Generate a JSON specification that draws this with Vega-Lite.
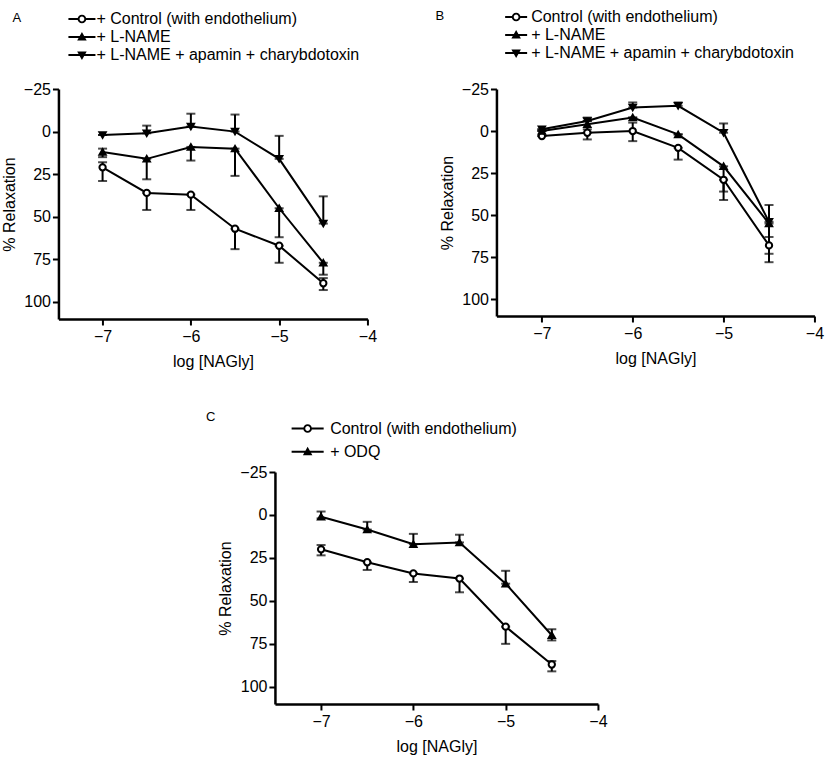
{
  "$schema": "https://vega.github.io/schema/vega-lite/v6.json",
  "padding": {"left": 1, "top": 9, "right": 2, "bottom": 2},
  "background": "white",
  "config": {
    "font": "Liberation Sans",
    "view": {"stroke": null},
    "axis": {
      "grid": false,
      "domainColor": "black",
      "domainWidth": 2.5,
      "tickColor": "black",
      "tickWidth": 2,
      "tickSize": 6,
      "labelFont": "Liberation Sans",
      "labelFontSize": 16,
      "labelColor": "black",
      "labelFlush": false,
      "titleFont": "Liberation Sans",
      "titleFontSize": 16,
      "titleFontWeight": "normal",
      "titleColor": "black"
    },
    "legend": {
      "labelFont": "Liberation Sans",
      "labelFontSize": 16,
      "labelColor": "black",
      "labelLimit": 0,
      "symbolStrokeWidth": 0,
      "symbolSize": 196,
      "padding": 0
    },
    "title": {"font": "Liberation Sans", "fontSize": 13, "fontWeight": "normal", "color": "black", "anchor": "start", "frame": "group"}
  },
  "datasets": {
    "a": [
      {"x": -7, "s": "+ Control (with endothelium)", "v": 21, "lo": 18, "hi": 29},
      {"x": -6.5, "s": "+ Control (with endothelium)", "v": 36, "lo": 36, "hi": 46},
      {"x": -6, "s": "+ Control (with endothelium)", "v": 37, "lo": 37, "hi": 46},
      {"x": -5.5, "s": "+ Control (with endothelium)", "v": 57, "lo": 57, "hi": 69},
      {"x": -5, "s": "+ Control (with endothelium)", "v": 67, "lo": 67, "hi": 77},
      {"x": -4.5, "s": "+ Control (with endothelium)", "v": 89, "lo": 86, "hi": 93},
      {"x": -7, "s": "+ L-NAME", "v": 12, "lo": 10, "hi": 15},
      {"x": -6.5, "s": "+ L-NAME", "v": 16, "lo": 16, "hi": 28},
      {"x": -6, "s": "+ L-NAME", "v": 9, "lo": 9, "hi": 17},
      {"x": -5.5, "s": "+ L-NAME", "v": 10, "lo": 10, "hi": 26},
      {"x": -5, "s": "+ L-NAME", "v": 45, "lo": 45, "hi": 62},
      {"x": -4.5, "s": "+ L-NAME", "v": 77, "lo": 77, "hi": 84},
      {"x": -7, "s": "+ L-NAME + apamin + charybdotoxin", "v": 2, "lo": 2, "hi": 2},
      {"x": -6.5, "s": "+ L-NAME + apamin + charybdotoxin", "v": 1, "lo": -3.5, "hi": 1},
      {"x": -6, "s": "+ L-NAME + apamin + charybdotoxin", "v": -3, "lo": -10.5, "hi": -3},
      {"x": -5.5, "s": "+ L-NAME + apamin + charybdotoxin", "v": 0, "lo": -10, "hi": 0},
      {"x": -5, "s": "+ L-NAME + apamin + charybdotoxin", "v": 16, "lo": 2.5, "hi": 16},
      {"x": -4.5, "s": "+ L-NAME + apamin + charybdotoxin", "v": 54, "lo": 38, "hi": 54}
    ],
    "b": [
      {"x": -7, "s": "Control (with endothelium)", "v": 3, "lo": 3, "hi": 3},
      {"x": -6.5, "s": "Control (with endothelium)", "v": 1, "lo": 1, "hi": 5},
      {"x": -6, "s": "Control (with endothelium)", "v": 0, "lo": -5, "hi": 6},
      {"x": -5.5, "s": "Control (with endothelium)", "v": 10, "lo": 10, "hi": 17},
      {"x": -5, "s": "Control (with endothelium)", "v": 29, "lo": 29, "hi": 41},
      {"x": -4.5, "s": "Control (with endothelium)", "v": 68, "lo": 63, "hi": 78},
      {"x": -7, "s": "+ L-NAME", "v": 0, "lo": 0, "hi": 0},
      {"x": -6.5, "s": "+ L-NAME", "v": -4, "lo": -6, "hi": -1},
      {"x": -6, "s": "+ L-NAME", "v": -8, "lo": -8, "hi": -8},
      {"x": -5.5, "s": "+ L-NAME", "v": 2, "lo": 2, "hi": 2},
      {"x": -5, "s": "+ L-NAME", "v": 21, "lo": 21, "hi": 36},
      {"x": -4.5, "s": "+ L-NAME", "v": 55, "lo": 55, "hi": 73},
      {"x": -7, "s": "+ L-NAME + apamin + charybdotoxin", "v": -1, "lo": -1, "hi": -1},
      {"x": -6.5, "s": "+ L-NAME + apamin + charybdotoxin", "v": -6, "lo": -8, "hi": -6},
      {"x": -6, "s": "+ L-NAME + apamin + charybdotoxin", "v": -14, "lo": -17, "hi": -14},
      {"x": -5.5, "s": "+ L-NAME + apamin + charybdotoxin", "v": -15, "lo": -17, "hi": -15},
      {"x": -5, "s": "+ L-NAME + apamin + charybdotoxin", "v": 1, "lo": -4.5, "hi": 1},
      {"x": -4.5, "s": "+ L-NAME + apamin + charybdotoxin", "v": 54, "lo": 44, "hi": 54}
    ],
    "c": [
      {"x": -7, "s": "Control (with endothelium)", "v": 20, "lo": 17.5, "hi": 23.5},
      {"x": -6.5, "s": "Control (with endothelium)", "v": 27.5, "lo": 27.5, "hi": 32},
      {"x": -6, "s": "Control (with endothelium)", "v": 34, "lo": 34, "hi": 39},
      {"x": -5.5, "s": "Control (with endothelium)", "v": 37, "lo": 37, "hi": 45},
      {"x": -5, "s": "Control (with endothelium)", "v": 65, "lo": 65, "hi": 75},
      {"x": -4.5, "s": "Control (with endothelium)", "v": 87, "lo": 85, "hi": 91},
      {"x": -7, "s": "+ ODQ", "v": 1, "lo": -2, "hi": 2},
      {"x": -6.5, "s": "+ ODQ", "v": 8.5, "lo": 4, "hi": 8.5},
      {"x": -6, "s": "+ ODQ", "v": 17, "lo": 11, "hi": 17},
      {"x": -5.5, "s": "+ ODQ", "v": 16, "lo": 11.5, "hi": 16},
      {"x": -5, "s": "+ ODQ", "v": 40, "lo": 32.5, "hi": 40},
      {"x": -4.5, "s": "+ ODQ", "v": 70, "lo": 66.5, "hi": 73}
    ]
  },
  "vconcat": [
    {
      "hconcat": [
        {
          "width": 309,
          "height": 230,
          "title": {"text": "A", "dx": -46, "offset": -14},
          "data": {"name": "a"},
          "layer": [
            {"mark": {"type": "rule", "color": "black", "strokeWidth": 2},
             "encoding": {
               "x": {"field": "x", "type": "quantitative", "scale": {"domain": [-7.5, -4], "nice": false, "zero": false}, "axis": {"values": [-7, -6, -5, -4], "format": "d", "title": "log [NAGly]", "labelPadding": 3, "titlePadding": 9}},
               "y": {"field": "lo", "type": "quantitative", "scale": {"domain": [-25, 110], "reverse": true, "nice": false, "zero": false}, "axis": {"values": [-25, 0, 25, 50, 75, 100], "format": "d", "title": "% Relaxation", "labelPadding": 2, "titlePadding": 6}},
               "y2": {"field": "hi"}}},
            {"mark": {"type": "tick", "orient": "horizontal", "color": "black", "thickness": 2, "size": 9},
             "encoding": {"x": {"field": "x", "type": "quantitative"}, "y": {"field": "lo", "type": "quantitative"}}},
            {"mark": {"type": "tick", "orient": "horizontal", "color": "black", "thickness": 2, "size": 9},
             "encoding": {"x": {"field": "x", "type": "quantitative"}, "y": {"field": "hi", "type": "quantitative"}}},
            {"mark": {"type": "line", "color": "black", "strokeWidth": 2},
             "encoding": {"x": {"field": "x", "type": "quantitative"}, "y": {"field": "v", "type": "quantitative"}, "detail": {"field": "s"}}},
            {"mark": {"type": "point", "filled": true, "stroke": "black", "strokeWidth": 2, "size": 40, "opacity": 1},
             "encoding": {
               "x": {"field": "x", "type": "quantitative"},
               "y": {"field": "v", "type": "quantitative"},
               "shape": {"field": "s", "type": "nominal", "scale": {"domain": ["+ Control (with endothelium)", "+ L-NAME", "+ L-NAME + apamin + charybdotoxin"], "range": ["circle", "triangle-up", "triangle-down"]}, "legend": null},
               "fill": {"field": "s", "type": "nominal", "scale": {"domain": ["+ Control (with endothelium)", "+ L-NAME", "+ L-NAME + apamin + charybdotoxin"], "range": ["white", "black", "black"]}, "legend": null}}},
            {"transform": [{"filter": "false"}],
             "mark": {"type": "point", "filled": true, "color": "black"},
             "encoding": {
               "x": {"field": "x", "type": "quantitative"},
               "y": {"field": "v", "type": "quantitative"},
               "shape": {"field": "s", "type": "nominal",
                 "scale": {"domain": ["+ Control (with endothelium)", "+ L-NAME", "+ L-NAME + apamin + charybdotoxin"],
                   "range": [
                     "M-1.93,-0.14H-0.6V0.14H-1.93Z M0.6,-0.14H1.93V0.14H0.6Z M0.62,0A0.62,0.62 0 1,1 -0.62,0A0.62,0.62 0 1,1 0.62,0Z M0.34,0A0.34,0.34 0 1,0 -0.34,0A0.34,0.34 0 1,0 0.34,0Z",
                     "M-1.93,-0.14H1.93V0.14H-1.93Z M0,-0.72L0.68,0.5H-0.68Z",
                     "M-1.93,-0.14H1.93V0.14H-1.93Z M0,0.72L-0.68,-0.5H0.68Z"]},
                 "legend": {"orient": "none", "legendX": 15.5, "legendY": -78, "title": null, "labelOffset": 6.5, "rowPadding": 2, "symbolFillColor": "black", "symbolOpacity": 1}}}}
          ],
          "resolve": {"scale": {"shape": "independent", "fill": "independent"}}
        },
        {
          "width": 318,
          "height": 227,
          "title": {"text": "B", "dx": -61, "offset": -13.5},
          "data": {"name": "b"},
          "layer": [
            {"mark": {"type": "rule", "color": "black", "strokeWidth": 2},
             "encoding": {
               "x": {"field": "x", "type": "quantitative", "scale": {"domain": [-7.5, -4], "nice": false, "zero": false}, "axis": {"values": [-7, -6, -5, -4], "format": "d", "title": "log [NAGly]", "labelPadding": 3, "titlePadding": 9}},
               "y": {"field": "lo", "type": "quantitative", "scale": {"domain": [-25, 110], "reverse": true, "nice": false, "zero": false}, "axis": {"values": [-25, 0, 25, 50, 75, 100], "format": "d", "title": "% Relaxation", "labelPadding": 2, "titlePadding": 6}},
               "y2": {"field": "hi"}}},
            {"mark": {"type": "tick", "orient": "horizontal", "color": "black", "thickness": 2, "size": 9},
             "encoding": {"x": {"field": "x", "type": "quantitative"}, "y": {"field": "lo", "type": "quantitative"}}},
            {"mark": {"type": "tick", "orient": "horizontal", "color": "black", "thickness": 2, "size": 9},
             "encoding": {"x": {"field": "x", "type": "quantitative"}, "y": {"field": "hi", "type": "quantitative"}}},
            {"mark": {"type": "line", "color": "black", "strokeWidth": 2},
             "encoding": {"x": {"field": "x", "type": "quantitative"}, "y": {"field": "v", "type": "quantitative"}, "detail": {"field": "s"}}},
            {"mark": {"type": "point", "filled": true, "stroke": "black", "strokeWidth": 2, "size": 40, "opacity": 1},
             "encoding": {
               "x": {"field": "x", "type": "quantitative"},
               "y": {"field": "v", "type": "quantitative"},
               "shape": {"field": "s", "type": "nominal", "scale": {"domain": ["Control (with endothelium)", "+ L-NAME", "+ L-NAME + apamin + charybdotoxin"], "range": ["circle", "triangle-up", "triangle-down"]}, "legend": null},
               "fill": {"field": "s", "type": "nominal", "scale": {"domain": ["Control (with endothelium)", "+ L-NAME", "+ L-NAME + apamin + charybdotoxin"], "range": ["white", "black", "black"]}, "legend": null}}},
            {"transform": [{"filter": "false"}],
             "mark": {"type": "point", "filled": true, "color": "black"},
             "encoding": {
               "x": {"field": "x", "type": "quantitative"},
               "y": {"field": "v", "type": "quantitative"},
               "shape": {"field": "s", "type": "nominal",
                 "scale": {"domain": ["Control (with endothelium)", "+ L-NAME", "+ L-NAME + apamin + charybdotoxin"],
                   "range": [
                     "M-1.57,-0.14H-0.6V0.14H-1.57Z M0.6,-0.14H1.57V0.14H0.6Z M0.62,0A0.62,0.62 0 1,1 -0.62,0A0.62,0.62 0 1,1 0.62,0Z M0.34,0A0.34,0.34 0 1,0 -0.34,0A0.34,0.34 0 1,0 0.34,0Z",
                     "M-1.57,-0.14H1.57V0.14H-1.57Z M0,-0.72L0.68,0.5H-0.68Z",
                     "M-1.57,-0.14H1.57V0.14H-1.57Z M0,0.72L-0.68,-0.5H0.68Z"]},
                 "legend": {"orient": "none", "legendX": 11.7, "legendY": -80, "title": null, "labelOffset": 7, "rowPadding": 2, "symbolFillColor": "black", "symbolOpacity": 1}}}}
          ],
          "resolve": {"scale": {"shape": "independent", "fill": "independent"}}
        }
      ],
      "spacing": 58
    },
    {
      "width": 323,
      "height": 232,
      "title": {"text": "C", "dx": -69, "offset": -3.2},
      "data": {"name": "c"},
      "layer": [
        {"mark": {"type": "rule", "color": "black", "strokeWidth": 2},
         "encoding": {
           "x": {"field": "x", "type": "quantitative", "scale": {"domain": [-7.5, -4], "nice": false, "zero": false}, "axis": {"values": [-7, -6, -5, -4], "format": "d", "title": "log [NAGly]", "labelPadding": 3, "titlePadding": 9}},
           "y": {"field": "lo", "type": "quantitative", "scale": {"domain": [-25, 110], "reverse": true, "nice": false, "zero": false}, "axis": {"values": [-25, 0, 25, 50, 75, 100], "format": "d", "title": "% Relaxation", "labelPadding": 2, "titlePadding": 6}},
           "y2": {"field": "hi"}}},
        {"mark": {"type": "tick", "orient": "horizontal", "color": "black", "thickness": 2, "size": 9},
         "encoding": {"x": {"field": "x", "type": "quantitative"}, "y": {"field": "lo", "type": "quantitative"}}},
        {"mark": {"type": "tick", "orient": "horizontal", "color": "black", "thickness": 2, "size": 9},
         "encoding": {"x": {"field": "x", "type": "quantitative"}, "y": {"field": "hi", "type": "quantitative"}}},
        {"mark": {"type": "line", "color": "black", "strokeWidth": 2},
         "encoding": {"x": {"field": "x", "type": "quantitative"}, "y": {"field": "v", "type": "quantitative"}, "detail": {"field": "s"}}},
        {"mark": {"type": "point", "filled": true, "stroke": "black", "strokeWidth": 2, "size": 40, "opacity": 1},
         "encoding": {
           "x": {"field": "x", "type": "quantitative"},
           "y": {"field": "v", "type": "quantitative"},
           "shape": {"field": "s", "type": "nominal", "scale": {"domain": ["Control (with endothelium)", "+ ODQ"], "range": ["circle", "triangle-up"]}, "legend": null},
           "fill": {"field": "s", "type": "nominal", "scale": {"domain": ["Control (with endothelium)", "+ ODQ"], "range": ["white", "black"]}, "legend": null}}},
        {"transform": [{"filter": "false"}],
         "mark": {"type": "point", "filled": true, "color": "black"},
         "encoding": {
           "x": {"field": "x", "type": "quantitative"},
           "y": {"field": "v", "type": "quantitative"},
           "shape": {"field": "s", "type": "nominal",
             "scale": {"domain": ["Control (with endothelium)", "+ ODQ"],
               "range": [
                 "M-2.29,-0.14H-0.6V0.14H-2.29Z M0.6,-0.14H2.29V0.14H0.6Z M0.62,0A0.62,0.62 0 1,1 -0.62,0A0.62,0.62 0 1,1 0.62,0Z M0.34,0A0.34,0.34 0 1,0 -0.34,0A0.34,0.34 0 1,0 0.34,0Z",
                 "M-2.29,-0.14H2.29V0.14H-2.29Z M0,-0.72L0.68,0.5H-0.68Z"]},
             "legend": {"orient": "none", "legendX": 24.7, "legendY": -51.5, "title": null, "labelOffset": 14.5, "rowPadding": 7.3, "symbolFillColor": "black", "symbolOpacity": 1}}}}
      ],
      "resolve": {"scale": {"shape": "independent", "fill": "independent"}}
    }
  ],
  "spacing": 41,
  "center": true
}
